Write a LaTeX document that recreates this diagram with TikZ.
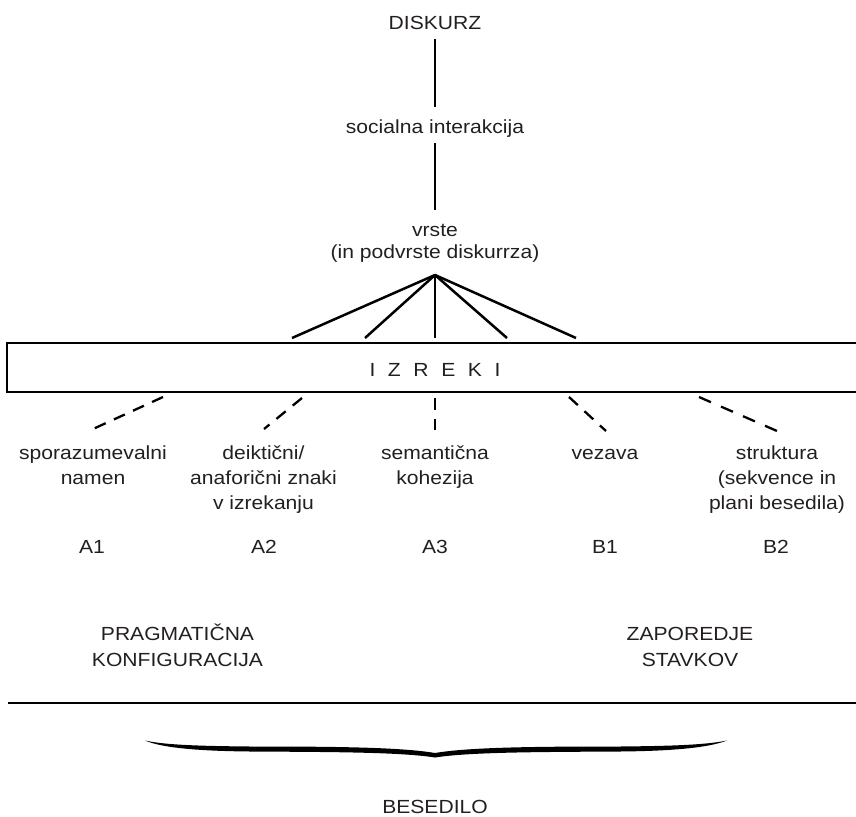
\documentclass[tikz,border=0pt]{standalone}
\usepackage{fontspec}
\setmainfont{Liberation Sans}[FakeStretch=1.11]
\definecolor{ink}{RGB}{35,31,32}
\begin{document}
\begin{tikzpicture}[x=1pt,y=-1pt,
  txt/.style={inner sep=0pt, anchor=base, text=ink, font=\fontsize{19}{25}\selectfont, align=center},
  solidlink/.style={draw=black, line width=2.5pt},
  dashlink/.style={draw=black, line width=2.3pt, dash pattern=on 12pt off 9pt},
  longdash/.style={dash pattern=on 13pt off 11pt},
  boxstyle/.style={draw=black, line width=1.3pt, minimum width=856pt, minimum height=49pt, inner sep=0pt}
]
\useasboundingbox (0,0) rectangle (856,816);

% top chain (multi-line nodes: base = baseline of last line)
\node[txt] (diskurz) at (435,29.3) {DISKURZ};
\node[txt] (soc) at (435,133.3) {socialna interakcija};
\node[txt, font=\fontsize{19}{21.6}\selectfont] (vrste) at (435,258.3) {vrste\\(in podvrste diskurrza)};
\draw[solidlink] ([yshift=-9.7pt]diskurz.base) -- ([yshift=26.3pt]soc.base);
\draw[solidlink] ([yshift=-9.7pt]soc.base) -- ([yshift=48.3pt]vrste.base);

% box
\node[boxstyle] (izreki) at (435,367.5) {};
\node[txt] (izrekilabel) at (435,376.7) {I\hspace{12.6pt}Z\hspace{12.6pt}R\hspace{12.6pt}E\hspace{12.6pt}K\hspace{12.6pt}I};

% fan
\coordinate (apex) at (435,275);
\coordinate (f1) at (292,338);
\coordinate (f2) at (365,338);
\coordinate (f3) at (435,338);
\coordinate (f4) at (507,338);
\coordinate (f5) at (576,338);
\foreach \i in {1,...,5} \draw[solidlink] (apex) -- (f\i);

% lower texts
\node[txt] (a1t) at (93,484.3) {sporazumevalni\\namen};
\node[txt] (a2t) at (263.5,509.3) {deiktični/\\anaforični znaki\\v izrekanju};
\node[txt] (a3t) at (435,484.3) {semantična\\kohezija};
\node[txt] (b1t) at (605,459.3) {vezava};
\node[txt] (b2t) at (777,509.3) {struktura\\(sekvence in\\plani besedila)};

% dashed connectors
\coordinate (d1a) at (163,397); \coordinate (d1b) at (93,429);
\coordinate (d2a) at (302,398); \coordinate (d2b) at (264,429);
\coordinate (d3a) at (435,398); \coordinate (d3b) at (435,430);
\coordinate (d4a) at (569,397); \coordinate (d4b) at (606,431);
\coordinate (d5a) at (699,397); \coordinate (d5b) at (777,431);
\foreach \i in {1,...,4} \draw[dashlink] (d\i a) -- (d\i b);
\draw[dashlink, longdash] (d5a) -- (d5b);

% codes
\node[txt] (a1) at (92,553.3) {A1};
\node[txt] (a2) at (264,553.3) {A2};
\node[txt] (a3) at (435,553.3) {A3};
\node[txt] (b1) at (605,553.3) {B1};
\node[txt] (b2) at (776,553.3) {B2};

% groups
\node[txt, font=\fontsize{19}{26}\selectfont] (prag) at (177.5,666.7) {PRAGMATIČNA\\KONFIGURACIJA};
\node[txt, font=\fontsize{19}{26}\selectfont] (zap) at (690,666.7) {ZAPOREDJE\\STAVKOV};

% rule
\coordinate (hl1) at (8,703);
\coordinate (hl2) at (858,703);
\draw[solidlink] (hl1) -- (hl2);

% brace
\fill[black] (145,740.5) .. controls (165,745) and (200,746) .. (250,746.5)
  .. controls (330,746.5) and (400,747) .. (435,753)
  .. controls (470,747) and (540,746.5) .. (620,746.5)
  .. controls (670,746) and (705,745) .. (727,740.5)
  .. controls (708,748) and (670,751) .. (620,751.5)
  .. controls (540,752) and (470,752) .. (435,757.5)
  .. controls (400,752) and (330,752) .. (250,751.5)
  .. controls (200,751) and (162,748) .. (145,740.5) -- cycle;

\node[txt] (besedilo) at (435,813.3) {BESEDILO};
\end{tikzpicture}
\end{document}
